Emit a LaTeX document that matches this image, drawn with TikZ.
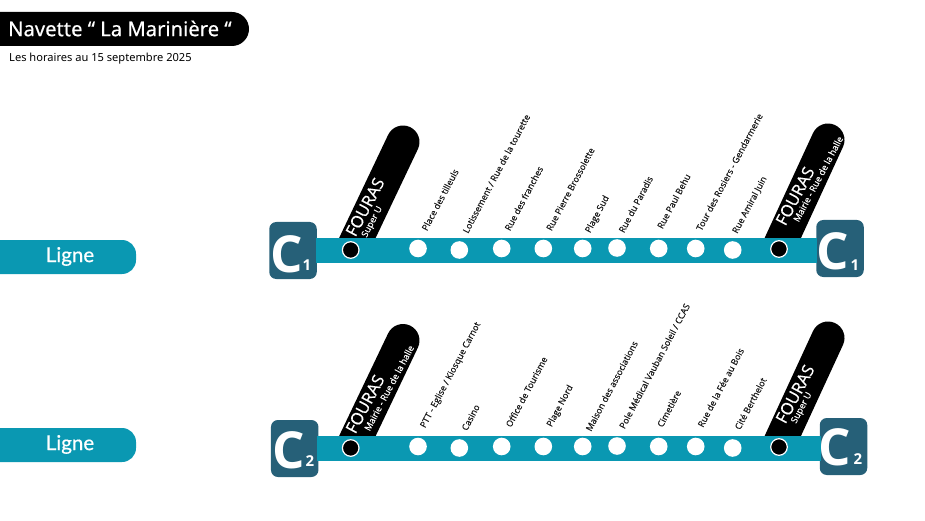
\documentclass[tikz,border=0pt]{standalone}
\usepackage{fontspec}
\setmainfont{Open Sans}
\newfontfamily\titlefont[FakeBold=0.5]{Noto Sans}
\newfontfamily\plainfont{Noto Sans}
\newfontfamily\namefont[FakeBold=0.7]{Open Sans}
\newfontfamily\stopfont[FakeBold=0.5]{Open Sans}
\newfontfamily\lignefont[FakeBold=0.6]{Lato}
\definecolor{ligneteal}{RGB}{10, 152, 178}
\definecolor{terminus}{RGB}{38, 96, 120}

\begin{document}
\begin{tikzpicture}[
	x=1pt, y=-1pt,
	% Styles for the line and its stops
	busline/.style={draw=ligneteal, line width=24.6pt},
	pill/.style={draw=black, line width=33pt, line cap=round},
	stopdot/.style={circle, fill=white, minimum size=17.6pt, inner sep=0pt},
	enddot/.style={circle, fill=black, draw=white, line width=1.2pt, minimum size=16.6pt, inner sep=0pt},
	terminusbox/.style={fill=terminus, rounded corners=7pt, minimum width=47.5pt, minimum height=57pt, inner sep=0pt},
	% Styles for text
	stoplabel/.style={font=\stopfont\fontsize{8.9}{11}\selectfont, text=black!90, anchor=west, inner sep=0pt, rotate=62},
	bigname/.style={font=\namefont\fontsize{16.5}{20}\selectfont, text=white, inner sep=0pt, rotate=62},
	subname/.style={font=\stopfont\fontsize{9}{10}\selectfont, text=white, inner sep=0pt, rotate=62},
	bigletter/.style={font=\fontsize{51}{55}\selectfont\bfseries, text=white, inner sep=0pt},
	smallnum/.style={font=\fontsize{15}{18}\selectfont\bfseries, text=white, inner sep=0pt},
	lignetext/.style={font=\lignefont\fontsize{20.5}{24}\selectfont, text=white, inner sep=0pt}
	]
	\useasboundingbox (0,0) rectangle (925,521);
	
	% ==========================================
	% HEADER
	% ==========================================
	\fill[black] (0,12) [rounded corners=17pt] -- (249,12) -- (249,46) [sharp corners] -- (0,46) -- cycle;
	\node[font=\titlefont\fontsize{20.2}{24}\selectfont, text=white, anchor=west, inner sep=0pt] (title) at (8,28.5) {Navette “ La Marinière “};
	\node[font=\plainfont\fontsize{11.1}{13}\selectfont, text=black, anchor=west, inner sep=0pt] (subtitle) at (9,58.5) {Les horaires au 15 septembre 2025};
	
	% ==========================================
	% LINE C1
	% ==========================================
	\fill[ligneteal] (0,240) [rounded corners=14pt] -- (136,240) -- (136,274) [sharp corners] -- (0,274) -- cycle;
	\node[lignetext] (lignea) at (70,256.5) {Ligne};
	
	% Termini
	\node[terminusbox] (boxaleft) at (293,250.5) {};
	\node[bigletter] (cal) at (286.5,254) {C};
	\node[smallnum] (nal) at (307,265) {1};
	\node[terminusbox] (boxaright) at (840,248.5) {};
	\node[bigletter] (car) at (833,251.5) {C};
	\node[smallnum] (nar) at (855,265) {1};
	
	% Black tags of the two ends
	\coordinate (pillabase) at (354.5,244);
	\coordinate (pillatop) at (403,142);
	\coordinate (pillbbase) at (780,244);
	\coordinate (pillbtop) at (828,140);
	\draw[pill] (pillabase) -- (pillatop);
	\draw[pill] (pillbbase) -- (pillbtop);
	\node[bigname] (foa) at (365,207) {FOURAS};
	\node[subname] (sua) at (372.5,222) {Super U};
	\node[bigname] (fob) at (795,196) {FOURAS};
	\node[subname] (sub) at (818,179) {Mairie - Rue de la halle};
	
	% The line itself
	\coordinate (linealeft) at (316,250.5);
	\coordinate (linearight) at (817,250.5);
	\draw[busline] (linealeft) -- (linearight);
	
	% Stops
	\node[enddot] (sa0) at (350.7,250) {};
	\node[stopdot] (sa1) at (418,248.5) {};
	\node[stopdot] (sa2) at (459.3,250) {};
	\node[stopdot] (sa3) at (501.7,248.5) {};
	\node[stopdot] (sa4) at (543.3,248.5) {};
	\node[stopdot] (sa5) at (582.7,248.5) {};
	\node[stopdot] (sa6) at (617,248) {};
	\node[stopdot] (sa7) at (658.7,248.5) {};
	\node[stopdot] (sa8) at (695.7,248.5) {};
	\node[stopdot] (sa9) at (732.7,250) {};
	\node[enddot] (sa10) at (779,249) {};
	
	% Stop names
	\node[stoplabel] (la1) at (424,230) {Place des tilleuls};
	\node[stoplabel] (la2) at (465,232.5) {Lotissement / Rue de la tourette};
	\node[stoplabel] (la3) at (507,230) {Rue des franches};
	\node[stoplabel] (la4) at (548.5,230) {Rue Pierre Brossolette};
	\node[stoplabel] (la5) at (588,232.5) {Plage Sud};
	\node[stoplabel] (la6) at (621,232) {Rue du Paradis};
	\node[stoplabel] (la7) at (659.5,228) {Rue Paul Behu};
	\node[stoplabel] (la8) at (698.5,230) {Tour des Rosiers - Gendarmerie};
	\node[stoplabel] (la9) at (735,233) {Rue Amiral Juin};
	
	% ==========================================
	% LINE C2
	% ==========================================
	\fill[ligneteal] (0,428) [rounded corners=14pt] -- (136,428) -- (136,462) [sharp corners] -- (0,462) -- cycle;
	\node[lignetext] (ligneb) at (70,444.5) {Ligne};
	
	% Termini
	\node[terminusbox] (boxbleft) at (294.7,448.5) {};
	\node[bigletter] (cbl) at (289,450) {C};
	\node[smallnum] (nbl) at (310,461) {2};
	\node[terminusbox] (boxbright) at (843.5,446.5) {};
	\node[bigletter] (cbr) at (835,447.5) {C};
	\node[smallnum] (nbr) at (858,459) {2};
	
	% Black tags of the two ends
	\coordinate (pillcbase) at (354.5,442);
	\coordinate (pillctop) at (403,340.5);
	\coordinate (pilldbase) at (780,442);
	\coordinate (pilldtop) at (828,338);
	\draw[pill] (pillcbase) -- (pillctop);
	\draw[pill] (pilldbase) -- (pilldtop);
	\node[bigname] (foc) at (365,404) {FOURAS};
	\node[subname] (suc) at (389,388) {Mairie - Rue de la halle};
	\node[bigname] (fod) at (795,394) {FOURAS};
	\node[subname] (sud) at (802,408) {Super U};
	
	% The line itself
	\coordinate (linebleft) at (317,448.4);
	\coordinate (linebright) at (821,448.4);
	\draw[busline] (linebleft) -- (linebright);
	
	% Stops
	\node[enddot] (sb0) at (350.7,448) {};
	\node[stopdot] (sb1) at (418,446.5) {};
	\node[stopdot] (sb2) at (459.3,448) {};
	\node[stopdot] (sb3) at (501.7,446.5) {};
	\node[stopdot] (sb4) at (543.3,446.5) {};
	\node[stopdot] (sb5) at (582.7,446.5) {};
	\node[stopdot] (sb6) at (617,446) {};
	\node[stopdot] (sb7) at (658.7,446.5) {};
	\node[stopdot] (sb8) at (695.7,446.5) {};
	\node[stopdot] (sb9) at (732.7,448) {};
	\node[enddot] (sb10) at (779,447) {};
	
	% Stop names
	\node[stoplabel] (lb1) at (423,427.5) {PTT - Eglise / Kiosque Carnot};
	\node[stoplabel] (lb2) at (464,430) {Casino};
	\node[stoplabel] (lb3) at (508,426.5) {Office de Tourisme};
	\node[stoplabel] (lb4) at (549.5,426.5) {Plage Nord};
	\node[stoplabel] (lb5) at (588,430.5) {Maison des associations};
	\node[stoplabel] (lb6) at (621.5,428) {Pole Médical Vauban Soleil / CCAS};
	\node[stoplabel] (lb7) at (659.5,426.5) {Cimetière};
	\node[stoplabel] (lb8) at (700,426.5) {Rue de la Fée au Bois};
	\node[stoplabel] (lb9) at (737,429) {Cité Berthelot};
	
\end{tikzpicture}
\end{document}
